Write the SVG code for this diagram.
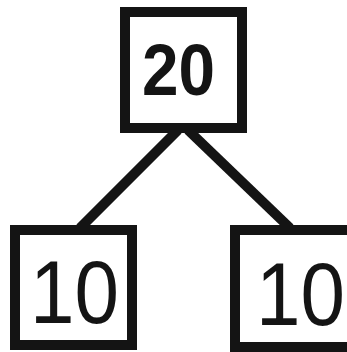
<svg xmlns="http://www.w3.org/2000/svg" width="347" height="352" viewBox="0 0 347 352">
<style>
.box{fill:#fff;stroke:#141414;stroke-width:10}
.edge{stroke:#141414;stroke-width:10;stroke-linecap:butt}
.t{font-family:"Liberation Sans","DejaVu Sans",sans-serif;fill:#141414}
</style>
<rect width="347" height="352" fill="#fff"/>
<g id="connectors">
<line class="edge" x1="178" y1="130" x2="80" y2="228"/>
<line class="edge" x1="188" y1="130" x2="290" y2="228"/>
</g>
<g id="node-20">
<rect class="box" x="125" y="12" width="117" height="116"/>
<text class="t" x="142" y="95" font-size="73" font-weight="bold" textLength="73" lengthAdjust="spacingAndGlyphs">20</text>
</g>
<g id="node-10-left">
<rect class="box" x="15" y="230" width="117" height="115"/>
<text class="t" transform="translate(30,323) scale(1,1.1)" font-size="80">10</text>
</g>
<g id="node-10-right">
<rect class="box" x="235" y="230" width="117" height="117"/>
<text class="t" transform="translate(256,325) scale(1,1.1)" font-size="80">10</text>
</g>
</svg>
